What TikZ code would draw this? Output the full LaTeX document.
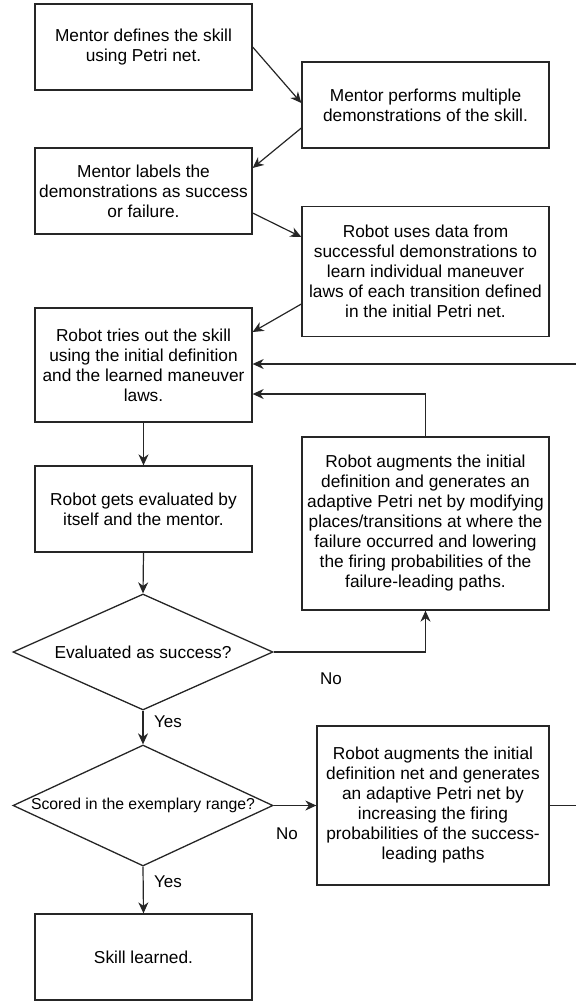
\documentclass[tikz,border=0pt]{standalone}
\usepackage{fontspec}
\setmainfont{Liberation Sans}
\usetikzlibrary{shapes.geometric,arrows.meta}
\begin{document}
\begin{tikzpicture}[x=1pt,y=-1pt,
  box/.style={draw=black!85, line width=1.3pt, align=center, inner sep=0pt, font=\fontsize{17.3}{20}\selectfont},
  dec/.style={diamond, draw=black!85, line width=1.3pt, inner sep=0pt, align=center},
  arr/.style={draw=black!85, line width=1.2pt, -{Stealth[length=11pt,width=10pt,inset=3.5pt]}},
  lbl/.style={font=\fontsize{17}{20}\selectfont, inner sep=0pt}]
\useasboundingbox (0,0) rectangle (576,1002);
\clip (0,0) rectangle (576,1002);
\node[box, minimum width=217pt, minimum height=86pt] (A) at (143.5,47) {Mentor defines the skill\\using Petri net.};
\node[box, minimum width=247pt, minimum height=86pt] (B) at (425.5,105) {Mentor performs multiple\\demonstrations of the skill.};
\node[box, minimum width=217pt, minimum height=86pt] (C) at (143.5,191) {Mentor labels the\\demonstrations as success\\or failure.};
\node[box, minimum width=247pt, minimum height=130pt] (D) at (425.5,271.5) {Robot uses data from\\successful demonstrations to\\learn individual maneuver\\laws of each transition defined\\in the initial Petri net.};
\node[box, minimum width=217pt, minimum height=114pt] (E) at (143.5,365) {Robot tries out the skill\\using the initial definition\\and the learned maneuver\\laws.};
\node[box, minimum width=217pt, minimum height=86pt] (F) at (143.5,509) {Robot gets evaluated by\\itself and the mentor.};
\node[box, minimum width=247pt, minimum height=173pt] (G) at (425.5,523.5) {Robot augments the initial\\definition and generates an\\adaptive Petri net by modifying\\places/transitions at where the\\failure occurred and lowering\\the firing probabilities of the\\failure-leading paths.};
\node[dec, aspect=2.24, minimum width=260pt, minimum height=116pt, font=\fontsize{17.3}{20}\selectfont] (D1) at (143,652) {Evaluated as success?};
\node[dec, aspect=2.15, minimum width=260pt, minimum height=121pt, font=\fontsize{15.8}{18}\selectfont] (D2) at (143,805.5) {Scored in the exemplary range?};
\node[box, minimum width=232pt, minimum height=159pt] (H) at (433,805.5) {Robot augments the initial\\definition net and generates\\an adaptive Petri net by\\increasing the firing\\probabilities of the success-\\leading paths};
\node[box, minimum width=217pt, minimum height=86pt] (I) at (143.5,957) {Skill learned.};
\draw[arr] (A.east) -- (B.west |- 0,103);
\draw[arr] (B.west |- 0,128) -- (C.east |- 0,168);
\draw[arr] (C.east |- 0,213) -- (D.west |- 0,237);
\draw[arr] (D.west |- 0,304) -- (E.east |- 0,332);
\draw[arr] (E.south) -- (F.north);
\draw[arr] (F.south) -- (D1.north);
\draw[arr] (D1.east) -| (G.south);
\draw[arr] (G.north) |- (E.east |- 0,394);
\draw[arr] (D1.south) -- (D2.north);
\draw[arr] (D2.east) -- (H.west);
\draw[arr] (D2.south) -- (I.north);
\draw[arr] (H.east) -- (585,805.5) |- (E.east |- 0,364);
\node[lbl] (yes1) at (168,722) {Yes};
\node[lbl] (no1) at (331,679) {No};
\node[lbl] (no2) at (287,834) {No};
\node[lbl] (yes2) at (168,882) {Yes};
\end{tikzpicture}
\end{document}
